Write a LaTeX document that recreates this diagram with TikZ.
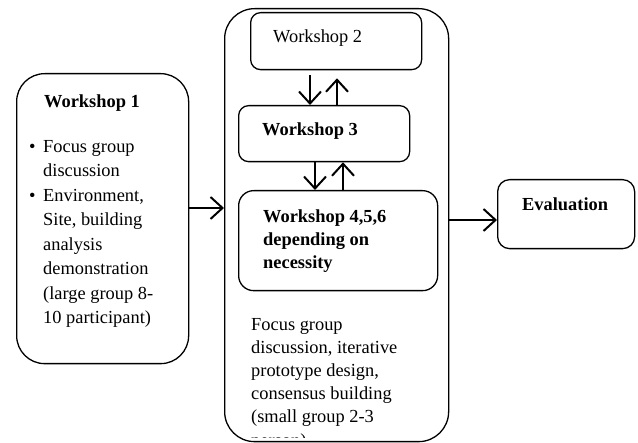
\documentclass[tikz,border=0pt]{standalone}
\usepackage{fontspec}
\setmainfont{Liberation Serif}
\usetikzlibrary{arrows.meta}

\newcommand{\topline}{\rule{0pt}{14pt}}

\begin{document}
\begin{tikzpicture}
        [x=1pt, y=-1pt,
        box/.style={draw, line width=1.3pt, rounded corners=#1, anchor=north west, inner sep=0pt},
        box/.default=10pt,
        txt/.style={anchor=north west, inner sep=0pt, align=left, font=\fontsize{18.4pt}{24.5pt}\selectfont},
        arr/.style={-{Straight Barb[length=12pt,width=22pt]}, line width=2pt}]
        \useasboundingbox (0,0) rectangle (638,443);

        % boxes
        \node[box=28pt, minimum width=172pt, minimum height=290pt] (ws1) at (16,73) {};
        \node[box=30pt, minimum width=224pt, minimum height=433pt] (group) at (224,8) {};
        \node[box, minimum width=171pt, minimum height=57pt] (ws2) at (250,12) {};
        \node[box, minimum width=171pt, minimum height=56pt] (ws3) at (238,105) {};
        \node[box=15pt, minimum width=199pt, minimum height=100pt] (ws4) at (238,190) {};
        \node[box=12pt, minimum width=137pt, minimum height=69pt] (eval) at (497,179) {};

        % texts (top of first line = baseline - 14pt)
        \node[txt] (ws1txt) at (29,93) {\topline\hspace*{15pt}\textbf{Workshop 1}\\[20.5pt]
            \makebox[14pt][l]{\textbullet}Focus group\\
            \hspace*{14pt}discussion\\
            \makebox[14pt][l]{\textbullet}Environment,\\
            \hspace*{14pt}Site, building\\
            \hspace*{14pt}analysis\\
            \hspace*{14pt}demonstration\\
            \hspace*{14pt}(large group 8-\\
            \hspace*{14pt}10 participant)};
        \node[txt] (ws2txt) at (273,28) {\topline Workshop 2};
        \node[txt] (ws3txt) at (262,121) {\topline\textbf{Workshop 3}};
        \node[txt, font=\fontsize{18.4pt}{23pt}\selectfont\bfseries] (ws4txt) at (263,208)
            {\topline Workshop 4,5,6\\depending on\\necessity};
        \node[txt] (evaltxt) at (522,196) {\topline\textbf{Evaluation}};
        \begin{scope}
            \clip (224,8) rectangle (448,438);
            \node[txt, font=\fontsize{18.4pt}{23.2pt}\selectfont] (grouptxt) at (251,316)
                {\topline Focus group\\discussion, iterative\\prototype design,\\consensus building\\(small group 2-3\\person)};
        \end{scope}

        % arrows
        \coordinate (d1) at (310,0);
        \coordinate (u1) at (337,0);
        \coordinate (d2) at (315,0);
        \coordinate (u2) at (343,0);
        \coordinate (h1) at (0,208);
        \coordinate (h2) at (0,220);
        \draw[arr, shorten <=5pt] (ws2.south -| d1) -- (ws3.north -| d1);
        \draw[arr, shorten >=8pt] (ws3.north -| u1) -- (ws2.south -| u1);
        \draw[arr] (ws3.south -| d2) -- (ws4.north -| d2);
        \draw[arr] (ws4.north -| u2) -- (ws3.south -| u2);
        \draw[arr] (ws1.east |- h1) -- (group.west |- h1);
        \draw[arr] (group.east |- h2) -- (eval.west |- h2);

    \end{tikzpicture}
\end{document}
